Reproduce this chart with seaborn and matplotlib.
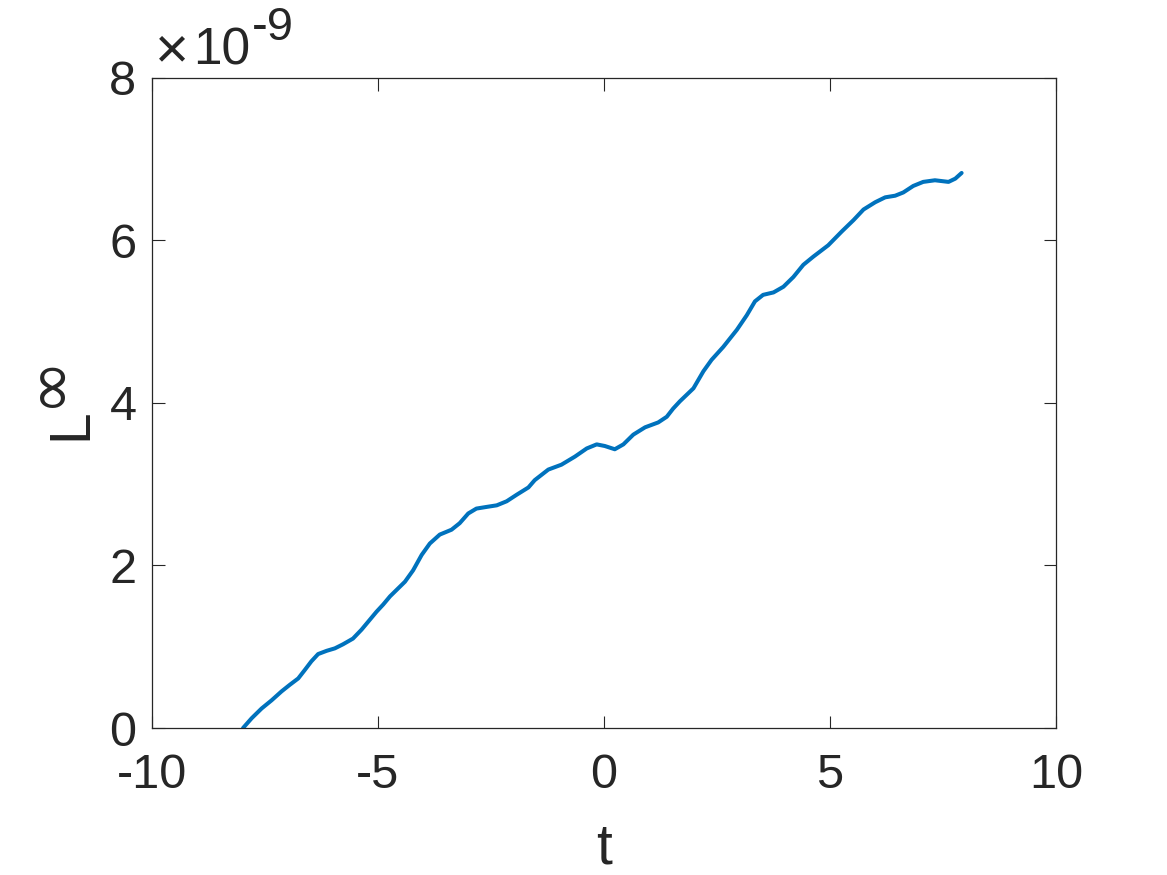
import numpy as np
import pandas as pd
import seaborn as sns
import matplotlib.pyplot as plt

# curve (y in units of 1e-9)
t = [-7.98, -7.79, -7.57, -7.35, -7.13, -6.95, -6.76, -6.62, -6.47, -6.32,
     -6.13, -5.95, -5.77, -5.55, -5.36, -5.21, -5.03, -4.88, -4.73, -4.40,
     -4.22, -4.03, -3.85, -3.63, -3.37, -3.19, -3.00, -2.82, -2.60, -2.37,
     -2.15, -1.93, -1.67, -1.53, -1.23, -0.94, -0.64, -0.38, -0.16, 0.02,
     0.24, 0.43, 0.65, 0.91, 1.20, 1.39, 1.53, 1.68, 1.98, 2.20,
     2.38, 2.64, 2.94, 3.16, 3.34, 3.52, 3.75, 3.97, 4.19, 4.41,
     4.63, 4.96, 5.26, 5.52, 5.74, 6.00, 6.22, 6.44, 6.62, 6.84,
     7.06, 7.32, 7.62, 7.77, 7.91]
linf = [0.00, 0.12, 0.24, 0.34, 0.45, 0.53, 0.61, 0.71, 0.82, 0.91,
        0.95, 0.98, 1.03, 1.10, 1.21, 1.31, 1.43, 1.52, 1.62, 1.80,
        1.94, 2.13, 2.27, 2.38, 2.44, 2.52, 2.64, 2.70, 2.72, 2.74,
        2.79, 2.87, 2.96, 3.05, 3.18, 3.24, 3.34, 3.44, 3.49, 3.47,
        3.43, 3.49, 3.61, 3.70, 3.76, 3.83, 3.93, 4.02, 4.18, 4.39,
        4.53, 4.69, 4.90, 5.08, 5.25, 5.33, 5.36, 5.43, 5.55, 5.70,
        5.80, 5.94, 6.11, 6.25, 6.38, 6.47, 6.53, 6.55, 6.59, 6.67,
        6.72, 6.74, 6.72, 6.76, 6.83]

df = pd.DataFrame({"t": t, "L": np.array(linf) * 1e-9})

sns.set_theme(style="ticks")
plt.rcParams["font.family"] = ["Liberation Sans", "DejaVu Sans"]
plt.rcParams["axes.unicode_minus"] = False

fig = plt.figure(figsize=(11.67, 8.75), dpi=100)
ax = fig.add_axes([0.13, 0.168, 0.775, 0.743])

sns.lineplot(data=df, x="t", y="L", ax=ax, color="#0072BD", linewidth=2.9,
             sort=False, solid_joinstyle="round", solid_capstyle="round")

ax.set_xlim(-10, 10)
ax.set_ylim(0, 8e-9)
ax.set_xticks([-10, -5, 0, 5, 10])
ax.set_yticks(np.arange(0, 9, 2) * 1e-9)

fmt = plt.ScalarFormatter()
fmt.set_powerlimits((-3, 3))
ax.yaxis.set_major_formatter(fmt)
ax.yaxis.get_offset_text().set_visible(False)

ink = "#262626"
ax.tick_params(direction="in", length=9, width=0.8, top=True, right=True,
               labelsize=35, colors=ink)
ax.tick_params(axis="x", pad=18)
ax.tick_params(axis="y", pad=11)
for s in ax.spines.values():
    s.set_linewidth(0.9)
    s.set_color(ink)

# MATLAB-style exponent label above the y axis
ax.annotate("\u00d7", xy=(0, 1), xycoords="axes fraction",
            xytext=(20, 26), textcoords="offset pixels",
            fontsize=42, color=ink, va="center", ha="center")
ax.annotate("10", xy=(0, 1), xycoords="axes fraction",
            xytext=(41, 13), textcoords="offset pixels",
            fontsize=37, color=ink, va="baseline", ha="left")
ax.annotate("-9", xy=(0, 1), xycoords="axes fraction",
            xytext=(100, 38), textcoords="offset pixels",
            fontsize=34, color=ink, va="baseline", ha="left")

ax.set_xlabel("t", fontsize=41, color=ink, labelpad=17)
ax.set_ylabel("L", fontsize=41, color=ink, labelpad=8)
ax.yaxis.label.set_y(0.468)
ax.text(-0.1145, 0.535, "\u221e", transform=ax.transAxes, rotation=90,
        fontsize=47, color=ink, ha="center", va="center",
        family=["DejaVu Sans", "Liberation Sans"])

fig.savefig("out.png", dpi=100)
